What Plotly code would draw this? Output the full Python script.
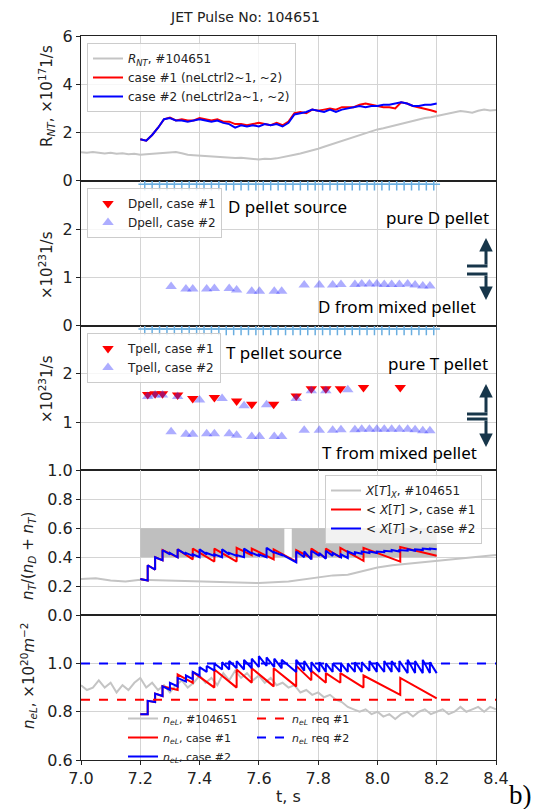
import plotly.graph_objects as go
from plotly.subplots import make_subplots

# ---------------- data ----------------
# common time grid for experimental traces
t_exp = [7.00, 7.02, 7.04, 7.06, 7.08, 7.10, 7.12, 7.14, 7.16, 7.18,
         7.20, 7.22, 7.24, 7.26, 7.28, 7.30, 7.32, 7.34, 7.36, 7.38,
         7.40, 7.42, 7.44, 7.46, 7.48, 7.50, 7.52, 7.54, 7.56, 7.58,
         7.60, 7.62, 7.64, 7.66, 7.68, 7.70, 7.72, 7.74, 7.76, 7.78,
         7.80, 7.82, 7.84, 7.86, 7.88, 7.90, 7.92, 7.94, 7.96, 7.98,
         8.00, 8.02, 8.04, 8.06, 8.08, 8.10, 8.12, 8.14, 8.16, 8.18,
         8.20, 8.22, 8.24, 8.26, 8.28, 8.30, 8.32, 8.34, 8.36, 8.38, 8.40]
rnt_exp = [1.18, 1.16, 1.19, 1.15, 1.13, 1.16, 1.12, 1.14, 1.10, 1.12,
           1.08, 1.10, 1.12, 1.14, 1.13, 1.17, 1.19, 1.14, 1.08, 1.06,
           1.04, 1.02, 1.01, 0.98, 0.96, 0.95, 0.94, 0.95, 0.93, 0.92,
           0.88, 0.91, 0.90, 0.93, 0.97, 1.01, 1.08, 1.13, 1.19, 1.26,
           1.33, 1.41, 1.49, 1.58, 1.68, 1.75, 1.83, 1.92, 1.98, 2.06,
           2.13, 2.18, 2.24, 2.32, 2.38, 2.44, 2.49, 2.55, 2.60, 2.63,
           2.68, 2.75, 2.80, 2.84, 2.89, 2.86, 2.82, 2.90, 2.95, 2.91, 2.93]
nel_exp = [0.91, 0.89, 0.90, 0.93, 0.90, 0.92, 0.88, 0.91, 0.89, 0.92,
           0.94, 0.90, 0.92, 0.89, 0.91, 0.88, 0.91, 0.93, 0.90, 0.92,
           0.95, 0.92, 0.94, 0.91, 0.96, 0.93, 0.97, 0.94, 0.96, 0.93,
           0.95, 0.92, 0.94, 0.91, 0.92, 0.90, 0.91, 0.88, 0.89, 0.87,
           0.88, 0.86, 0.87, 0.85, 0.84, 0.82, 0.81, 0.80, 0.81, 0.79,
           0.80, 0.78, 0.79, 0.77, 0.79, 0.80, 0.78, 0.80, 0.81, 0.79,
           0.80, 0.81, 0.79, 0.80, 0.82, 0.80, 0.81, 0.82, 0.80, 0.82, 0.81]

# simulated R_NT
t_sim = [7.20, 7.22, 7.24, 7.26, 7.28, 7.30, 7.32, 7.34, 7.36, 7.38,
         7.40, 7.42, 7.44, 7.46, 7.48, 7.50, 7.52, 7.54, 7.56, 7.58,
         7.60, 7.62, 7.64, 7.66, 7.68, 7.70, 7.72, 7.74, 7.76, 7.78,
         7.80, 7.82, 7.84, 7.86, 7.88, 7.90, 7.92, 7.94, 7.96, 7.98,
         8.00, 8.02, 8.04, 8.06, 8.08, 8.10, 8.12, 8.14, 8.16, 8.18, 8.20]
rnt_case1 = [1.72, 1.66, 1.90, 2.20, 2.55, 2.62, 2.50, 2.55, 2.50, 2.50,
             2.60, 2.55, 2.50, 2.55, 2.45, 2.45, 2.35, 2.35, 2.30, 2.35,
             2.40, 2.35, 2.30, 2.40, 2.30, 2.45, 2.80, 2.85, 2.80, 2.95,
             2.90, 2.95, 3.00, 2.95, 3.05, 3.05, 3.05, 3.15, 3.20, 3.15,
             3.10, 3.05, 3.05, 3.00, 3.25, 3.20, 3.10, 3.05, 3.00, 2.92, 2.85]
rnt_case2 = [1.72, 1.66, 1.90, 2.20, 2.55, 2.60, 2.50, 2.50, 2.45, 2.50,
             2.55, 2.50, 2.45, 2.50, 2.40, 2.35, 2.20, 2.30, 2.25, 2.30,
             2.25, 2.35, 2.30, 2.35, 2.25, 2.40, 2.75, 2.80, 2.85, 2.95,
             2.90, 2.85, 2.95, 2.85, 2.95, 3.00, 3.05, 3.10, 3.05, 3.10,
             3.10, 3.15, 3.15, 3.20, 3.25, 3.20, 3.10, 3.10, 3.15, 3.15, 3.20]

# pellet time markers (light blue +)
pellet_marks = [7.215, 7.24, 7.265, 7.29, 7.315, 7.34, 7.365, 7.39, 7.415, 7.44,
                7.465, 7.49, 7.515, 7.54, 7.565, 7.59, 7.615, 7.64, 7.665, 7.69,
                7.715, 7.74, 7.765, 7.79, 7.815, 7.84, 7.865, 7.89, 7.915, 7.94,
                7.965, 7.99, 8.015, 8.04, 8.065, 8.09, 8.115, 8.14, 8.165, 8.19]

# D/T pellet sources (x10^23 1/s)
mix_t = [7.304, 7.354, 7.377, 7.424, 7.45, 7.50, 7.525, 7.576, 7.602, 7.652,
         7.677, 7.753, 7.804, 7.849, 7.877, 7.924, 7.947, 7.973, 7.998, 8.023,
         8.048, 8.074, 8.102, 8.127, 8.153, 8.177]
dpell_case2 = [0.81, 0.76, 0.76, 0.76, 0.77, 0.77, 0.74, 0.71, 0.71, 0.71,
               0.71, 0.84, 0.84, 0.84, 0.85, 0.85, 0.86, 0.86, 0.86, 0.85,
               0.85, 0.85, 0.86, 0.84, 0.82, 0.82]
tmix_case2 = [0.80, 0.75, 0.75, 0.76, 0.76, 0.76, 0.73, 0.70, 0.70, 0.70,
              0.70, 0.83, 0.83, 0.83, 0.84, 0.84, 0.85, 0.85, 0.85, 0.85,
              0.85, 0.85, 0.85, 0.84, 0.82, 0.82]
tpure_t_case2 = [7.225, 7.25, 7.275, 7.326, 7.40, 7.476, 7.55, 7.626, 7.726, 7.777, 7.826, 7.90]
tpure_case2 = [1.53, 1.56, 1.56, 1.53, 1.46, 1.49, 1.34, 1.36, 1.49, 1.65, 1.65, 1.67]
tpell_t_case1 = [7.225, 7.25, 7.275, 7.326, 7.377, 7.45, 7.525, 7.576, 7.65, 7.726,
                 7.777, 7.826, 7.875, 7.953, 8.077]
tpell_case1 = [1.57, 1.59, 1.59, 1.56, 1.49, 1.51, 1.44, 1.37, 1.37, 1.54,
               1.69, 1.69, 1.69, 1.72, 1.72]

# tritium fraction
xt_exp_t = [7.0, 7.05, 7.1, 7.15, 7.2, 7.3, 7.4, 7.5, 7.6, 7.7, 7.75, 7.8,
            7.85, 7.9, 7.95, 8.0, 8.05, 8.1, 8.2, 8.3, 8.4]
xt_exp = [0.25, 0.255, 0.24, 0.232, 0.245, 0.24, 0.232, 0.225, 0.222, 0.232, 0.245,
          0.262, 0.275, 0.28, 0.305, 0.33, 0.345, 0.355, 0.375, 0.395, 0.415]
band_start = [7.20, 7.711]
band_end = [7.686, 8.20]
band_low = 0.4
band_high = 0.6

# case #2 pellet times (sawtooth jumps)
pel_t_case2 = [7.225, 7.25, 7.275, 7.30, 7.326, 7.354, 7.377, 7.40, 7.424, 7.45,
               7.476, 7.50, 7.525, 7.55, 7.576, 7.60, 7.626, 7.652, 7.677, 7.726,
               7.753, 7.777, 7.804, 7.826, 7.849, 7.877, 7.90, 7.924, 7.947, 7.973,
               7.998, 8.023, 8.048, 8.074, 8.102, 8.127, 8.153, 8.177]
xt2_pre = [0.24, 0.315, 0.38, 0.42, 0.40, 0.42, 0.41, 0.40, 0.42, 0.41,
           0.40, 0.42, 0.41, 0.40, 0.425, 0.41, 0.40, 0.43, 0.415, 0.365,
           0.40, 0.385, 0.41, 0.39, 0.41, 0.40, 0.395, 0.42, 0.425, 0.43,
           0.43, 0.435, 0.44, 0.44, 0.445, 0.445, 0.45, 0.455]
xt2_post = [0.345, 0.40, 0.45, 0.43, 0.455, 0.43, 0.42, 0.455, 0.43, 0.42,
            0.455, 0.43, 0.415, 0.46, 0.43, 0.42, 0.465, 0.435, 0.42, 0.44,
            0.44, 0.445, 0.43, 0.445, 0.43, 0.42, 0.44, 0.435, 0.44, 0.44,
            0.44, 0.445, 0.45, 0.45, 0.455, 0.455, 0.46, 0.46]
xt2_start, xt2_end = 0.25, 0.455

pel_t_case1 = [7.225, 7.25, 7.275, 7.326, 7.377, 7.45, 7.525, 7.576, 7.65, 7.726,
               7.777, 7.826, 7.875, 7.953, 8.077]
xt1_pre = [0.24, 0.315, 0.38, 0.40, 0.385, 0.37, 0.37, 0.415, 0.385, 0.37,
           0.395, 0.395, 0.40, 0.375, 0.37]
xt1_post = [0.345, 0.40, 0.45, 0.455, 0.46, 0.46, 0.465, 0.46, 0.455, 0.45,
            0.46, 0.46, 0.465, 0.465, 0.47]
xt1_start, xt1_end = 0.25, 0.41

# line-averaged density (x10^20 m^-2)
nel2_pre = [0.79, 0.84, 0.865, 0.89, 0.905, 0.925, 0.935, 0.95, 0.965, 0.97,
            0.975, 0.975, 0.98, 0.975, 0.98, 0.985, 0.99, 0.985, 0.98, 0.965,
            0.97, 0.965, 0.965, 0.965, 0.965, 0.965, 0.965, 0.965, 0.965, 0.97,
            0.965, 0.965, 0.965, 0.965, 0.96, 0.96, 0.96, 0.96]
nel2_post = [0.845, 0.875, 0.905, 0.92, 0.94, 0.95, 0.965, 0.985, 0.99, 1.0,
             1.005, 1.01, 1.01, 1.015, 1.02, 1.03, 1.025, 1.02, 1.015, 1.015,
             1.01, 1.005, 1.005, 1.0, 1.0, 1.0, 1.0, 1.005, 1.005, 1.01,
             1.005, 1.01, 1.01, 1.01, 1.015, 1.01, 1.015, 1.005]
nel2_start, nel2_end = 0.79, 0.96
nel1_pre = [0.79, 0.84, 0.865, 0.89, 0.92, 0.90, 0.90, 0.92, 0.905, 0.905,
            0.93, 0.92, 0.92, 0.90, 0.87]
nel1_post = [0.845, 0.875, 0.905, 0.955, 0.965, 0.975, 0.975, 0.98, 0.98, 0.99,
             0.97, 0.96, 0.96, 0.95, 0.94]
nel1_start, nel1_end = 0.79, 0.855
req_t = [7.0, 8.4]
nel_req1 = 0.85
nel_req2 = 1.0

T0, T1 = 7.20, 8.20


def sawtooth(t_list, pre, post, v0, v1):
    xs, ys = [T0], [v0]
    for t, a, b in zip(t_list, pre, post):
        xs += [t, t]
        ys += [a, b]
    xs.append(T1)
    ys.append(v1)
    return xs, ys


# ---------------- figure ----------------
W, H = 534, 809
ML, MR, MT, MB = 81, 38, 36, 49
PW, PH = W - ML - MR, H - MT - MB


def px(x):
    return (x - ML) / PW


def py(y):
    return (H - MB - y) / PH


fig = make_subplots(rows=5, cols=1, shared_xaxes=True, vertical_spacing=0)

GRAY = "#c4c4c4"
RED = "#ff0000"
BLUE = "#0000ff"
LBLUE = "#6aaee0"
FONT = "DejaVu Sans"

# Panel 1
fig.add_trace(go.Scatter(x=t_exp, y=rnt_exp, mode="lines", line=dict(color=GRAY, width=2),
                         name="<i>R<sub>NT</sub></i>, #104651", legend="legend"), row=1, col=1)
fig.add_trace(go.Scatter(x=t_sim, y=rnt_case1, mode="lines", line=dict(color=RED, width=2),
                         name="case #1 (neLctrl2~1, ~2)", legend="legend"), row=1, col=1)
fig.add_trace(go.Scatter(x=t_sim, y=rnt_case2, mode="lines", line=dict(color=BLUE, width=2),
                         name="case #2 (neLctrl2a~1, ~2)", legend="legend"), row=1, col=1)

# Panel 2
fig.add_trace(go.Scatter(x=[None], y=[None], mode="markers",
                         marker=dict(symbol="triangle-down", size=10, color=RED),
                         name="Dpell, case #1", legend="legend2"), row=2, col=1)
fig.add_trace(go.Scatter(x=mix_t, y=dpell_case2, mode="markers",
                         marker=dict(symbol="triangle-up", size=10, color="rgba(40,40,255,0.38)"),
                         name="Dpell, case #2", legend="legend2"), row=2, col=1)
fig.add_trace(go.Scatter(x=pellet_marks, y=[2.93] * len(pellet_marks), mode="markers",
                         marker=dict(symbol="cross-thin", size=9, line=dict(color=LBLUE, width=1.5)),
                         showlegend=False), row=2, col=1)

# Panel 3
fig.add_trace(go.Scatter(x=tpell_t_case1, y=tpell_case1, mode="markers",
                         marker=dict(symbol="triangle-down", size=10, color=RED),
                         name="Tpell, case #1", legend="legend3"), row=3, col=1)
fig.add_trace(go.Scatter(x=tpure_t_case2 + mix_t, y=tpure_case2 + tmix_case2, mode="markers",
                         marker=dict(symbol="triangle-up", size=10, color="rgba(40,40,255,0.38)"),
                         name="Tpell, case #2", legend="legend3"), row=3, col=1)
fig.add_trace(go.Scatter(x=pellet_marks, y=[2.93] * len(pellet_marks), mode="markers",
                         marker=dict(symbol="cross-thin", size=9, line=dict(color=LBLUE, width=1.5)),
                         showlegend=False), row=3, col=1)

# Panel 4
for s, e in zip(band_start, band_end):
    fig.add_trace(go.Scatter(x=[s, e, e, s, s], y=[band_low, band_low, band_high, band_high, band_low],
                             mode="lines", fill="toself", fillcolor="#bfbfbf",
                             line=dict(width=0, color="#bfbfbf"), showlegend=False,
                             hoverinfo="skip"), row=4, col=1)
fig.add_trace(go.Scatter(x=xt_exp_t, y=xt_exp, mode="lines", line=dict(color=GRAY, width=2),
                         name="<i>X</i>[<i>T</i>]<sub><i>X</i></sub>, #104651", legend="legend4"),
              row=4, col=1)
x1, y1 = sawtooth(pel_t_case1, xt1_pre, xt1_post, xt1_start, xt1_end)
fig.add_trace(go.Scatter(x=x1, y=y1, mode="lines", line=dict(color=RED, width=2),
                         name="&lt; <i>X</i>[<i>T</i>] &gt;, case #1", legend="legend4"), row=4, col=1)
x2, y2 = sawtooth(pel_t_case2, xt2_pre, xt2_post, xt2_start, xt2_end)
fig.add_trace(go.Scatter(x=x2, y=y2, mode="lines", line=dict(color=BLUE, width=2),
                         name="&lt; <i>X</i>[<i>T</i>] &gt;, case #2", legend="legend4"), row=4, col=1)

# Panel 5
fig.add_trace(go.Scatter(x=t_exp, y=nel_exp, mode="lines", line=dict(color=GRAY, width=2),
                         name="<i>n<sub>eL</sub></i>, #104651", legend="legend5"), row=5, col=1)
x1, y1 = sawtooth(pel_t_case1, nel1_pre, nel1_post, nel1_start, nel1_end)
fig.add_trace(go.Scatter(x=x1, y=y1, mode="lines", line=dict(color=RED, width=2),
                         name="<i>n<sub>eL</sub></i>, case #1", legend="legend5"), row=5, col=1)
x2, y2 = sawtooth(pel_t_case2, nel2_pre, nel2_post, nel2_start, nel2_end)
fig.add_trace(go.Scatter(x=x2, y=y2, mode="lines", line=dict(color=BLUE, width=2),
                         name="<i>n<sub>eL</sub></i>, case #2", legend="legend5"), row=5, col=1)
fig.add_trace(go.Scatter(x=req_t, y=[nel_req1] * len(req_t), mode="lines",
                         line=dict(color=RED, width=2, dash="dash"),
                         name="<i>n<sub>eL</sub></i> req #1", legend="legend6"), row=5, col=1)
fig.add_trace(go.Scatter(x=req_t, y=[nel_req2] * len(req_t), mode="lines",
                         line=dict(color=BLUE, width=2, dash="dash"),
                         name="<i>n<sub>eL</sub></i> req #2", legend="legend6"), row=5, col=1)

# ---------------- axes ----------------
domains = [[0.8, 1.0], [0.6, 0.8], [0.4, 0.6], [0.2, 0.4], [0.0, 0.2]]
yranges = [[0, 6], [0, 3], [0, 3], [0, 1.0], [0.6, 1.2]]
yticks = [[0, 2, 4, 6], [0, 1, 2], [1, 2], [0.0, 0.2, 0.4, 0.6, 0.8, 1.0], [0.6, 0.8, 1.0]]
ytext = [["0", "2", "4", "6"], ["0", "1", "2"], ["1", "2"],
         ["0.0", "0.2", "0.4", "0.6", "0.8", "1.0"], ["0.6", "0.8", "1.0"]]
xtv = [7.0, 7.2, 7.4, 7.6, 7.8, 8.0, 8.2, 8.4]
for i in range(5):
    sfx = "" if i == 0 else str(i + 1)
    fig.layout["yaxis" + sfx].update(
        domain=domains[i], range=yranges[i], tickvals=yticks[i], ticktext=ytext[i],
        showgrid=True, gridcolor="#d4d4d4", gridwidth=1, zeroline=False,
        showline=True, linecolor="#222222", linewidth=1, mirror=True,
        ticks="outside", ticklen=4, tickcolor="#222222",
        tickfont=dict(family=FONT, size=16, color="#222222"))
    fig.layout["xaxis" + sfx].update(
        range=[7.0, 8.4], tickvals=xtv, showgrid=True, gridcolor="#d4d4d4", gridwidth=1,
        zeroline=False, showline=True, linecolor="#222222", linewidth=1, mirror=True,
        ticks="outside" if i == 4 else "", ticklen=4, tickcolor="#222222",
        showticklabels=(i == 4), tickformat=".1f",
        tickfont=dict(family=FONT, size=16, color="#222222"))

leg_common = dict(font=dict(family=FONT, size=12, color="#222222"),
                  bgcolor="rgba(255,255,255,0.8)", bordercolor="#cccccc", borderwidth=1,
                  xanchor="left", yanchor="top", itemwidth=30, tracegroupgap=0)
leg_plain = dict(font=dict(family=FONT, size=11, color="#222222"),
                 bgcolor="rgba(255,255,255,0)", borderwidth=0, xanchor="left",
                 yanchor="top", itemwidth=30, tracegroupgap=0)

fig.update_layout(
    width=W, height=H,
    margin=dict(l=ML, r=MR, t=MT, b=MB),
    paper_bgcolor="white", plot_bgcolor="white",
    font=dict(family=FONT, size=12, color="#222222"),
    legend=dict(x=px(87), y=py(43), **leg_common),
    legend2=dict(x=px(87), y=py(188), **leg_common),
    legend3=dict(x=px(87), y=py(333), **leg_common),
    legend4=dict(x=px(325), y=py(475), **leg_common),
    legend5=dict(x=px(123), y=py(704), **leg_plain),
    legend6=dict(x=px(252), y=py(704), **leg_plain),
)

# ---------------- text annotations ----------------
ann = []


def text(s, x, y, xanchor="center", size=16, angle=0, family=FONT, color="#222222"):
    ann.append(dict(text=s, x=px(x), y=py(y), xref="paper", yref="paper", showarrow=False,
                    xanchor=xanchor, yanchor="middle", textangle=angle,
                    font=dict(family=family, size=size, color=color)))


text("JET Pulse No: 104651", 245, 17, size=14)
text("t, s", 288, 796, size=16)
text("b)", 507, 795, xanchor="left", size=27, family="Liberation Serif", color="#000000")

# y-axis titles
text("R<sub><i>NT</i></sub>, ×10<sup>17</sup>1/s", 46, 96, size=15, angle=-90)
text("×10<sup>23</sup>1/s", 46, 265, size=15, angle=-90)
text("×10<sup>23</sup>1/s", 46, 389, size=15, angle=-90)
text("<i>n<sub>T</sub></i>/(<i>n<sub>D</sub></i> + <i>n<sub>T</sub></i>)", 28, 556, size=15, angle=-90)
text("<i>n<sub>eL</sub></i>, ×10<sup>20</sup><i>m</i><sup>−2</sup>", 28, 676, size=15, angle=-90)

# in-panel labels
AF = "Noto Sans"
text("D pellet source", 226, 206, xanchor="left", size=17, family=AF, color="#000000")
text("pure D pellet", 491, 218, xanchor="right", size=17, family=AF, color="#000000")
text("D from mixed pellet", 478, 307, xanchor="right", size=17, family=AF, color="#000000")
text("T pellet source", 224, 352, xanchor="left", size=17, family=AF, color="#000000")
text("pure T pellet", 490, 363, xanchor="right", size=17, family=AF, color="#000000")
text("T from mixed pellet", 479, 453, xanchor="right", size=17, family=AF, color="#000000")

ARROW = "#17364a"


def arrow(x, y_tip, y_tail):
    ann.append(dict(text="", x=px(x), y=py(y_tip), xref="paper", yref="paper",
                    ax=0, ay=y_tail - y_tip, axref="pixel", ayref="pixel",
                    showarrow=True, arrowhead=2, arrowsize=0.9, arrowwidth=3,
                    arrowcolor=ARROW))


shapes = []


def hline(x0, x1, y):
    shapes.append(dict(type="line", xref="paper", yref="paper", x0=px(x0), x1=px(x1),
                       y0=py(y), y1=py(y), line=dict(color=ARROW, width=3)))


arrow(486, 238, 266)
arrow(486, 300, 274)
hline(467, 487.5, 266)
hline(467, 487.5, 274)
arrow(486, 384, 414)
arrow(486, 447, 419)
hline(467, 487.5, 414)
hline(467, 487.5, 419)

fig.update_layout(annotations=ann, shapes=shapes)

fig.write_html("out.html", config={"displayModeBar": False},
               post_script="document.body.style.margin='0';document.body.style.overflow='hidden';")
